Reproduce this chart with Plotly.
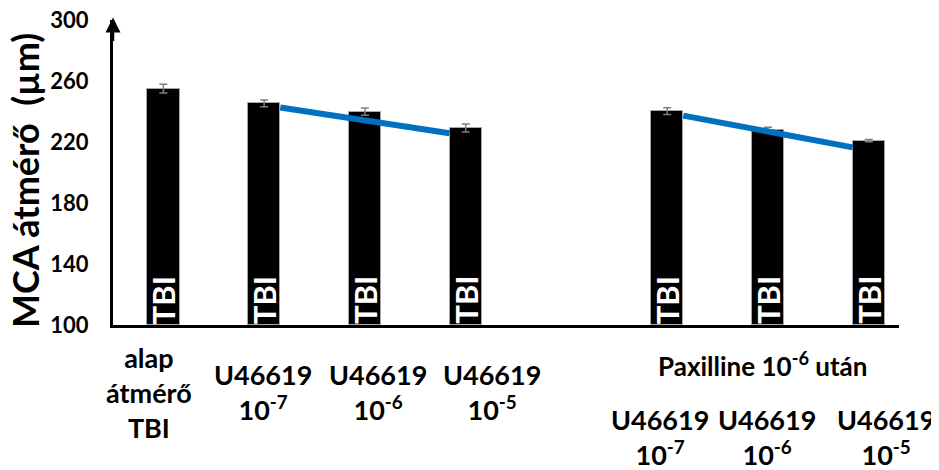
import plotly.graph_objects as go

# ---------------- data ----------------
categories = [
    "alap átmérő TBI",
    "U46619 10-7",
    "U46619 10-6",
    "U46619 10-5",
    "Paxilline + U46619 10-7",
    "Paxilline + U46619 10-6",
    "Paxilline + U46619 10-5",
]
diameter = [255.0, 245.3, 239.9, 229.2, 240.3, 227.9, 220.9]
sem = [2.9, 2.2, 2.4, 2.6, 2.2, 1.8, 0.8]
bar_text = ["TBI"] * 7
tick_labels = [
    "alap<br>átmérő<br>TBI",
    "U46619<br>10<sup>-7</sup>",
    "U46619<br>10<sup>-6</sup>",
    "U46619<br>10<sup>-5</sup>",
    "U46619<br>10<sup>-7</sup>",
    "U46619<br>10<sup>-6</sup>",
    "U46619<br>10<sup>-5</sup>",
]
group_label = "Paxilline 10<sup>-6</sup> után"
y_ticks = [100, 140, 180, 220, 260, 300]
y_title = "MCA átmérő\u00a0\u00a0(µm)"

# trend lines: from bar index -> to bar index, with y at the two ends
trend_from = [1, 4]
trend_to = [3, 6]
trend_start_y = [242.6, 237.3]
trend_end_y = [225.7, 216.5]

# ---------------- layout helpers ----------------
gap_after = 3  # one empty slot after the 4th bar
positions = [i + (1 if i > gap_after else 0) for i in range(len(categories))]
bar_w = 0.32
FONT = "Lato"

fig = go.Figure()

fig.add_trace(go.Bar(
    x=positions, y=[v - 100 for v in diameter], base=100,
    width=bar_w,
    marker=dict(color="black", line=dict(color="#a6a6a6", width=1)),
    error_y=dict(type="data", array=sem, color="#7f7f7f", thickness=1.5, width=4),
    hovertext=categories, showlegend=False,
))

for f, t, ys, ye in zip(trend_from, trend_to, trend_start_y, trend_end_y):
    fig.add_trace(go.Scatter(
        x=[positions[f] + bar_w / 2, positions[t] - bar_w / 2],
        y=[ys, ye], mode="lines",
        line=dict(color="#0070C0", width=6), showlegend=False,
    ))

annotations = []
# TBI labels inside bars
for p, txt in zip(positions, bar_text):
    annotations.append(dict(
        x=p, y=100, xref="x", yref="y", text=txt, showarrow=False,
        textangle=-90, yanchor="bottom", xanchor="center", yshift=-1,
        font=dict(family=FONT, size=31, color="white", weight="bold"),
    ))

# category labels under the axis
label_xshift = [-14, -1, 13, 26, -7, -1, 17]
label_y = [-0.22, -0.22, -0.22, -0.22, -0.367, -0.367, -0.367]
for p, txt, dx, yy in zip(positions, tick_labels, label_xshift, label_y):
    annotations.append(dict(
        x=p, y=yy, xref="x", yref="paper", text=txt, showarrow=False,
        xanchor="center", yanchor="middle", xshift=dx,
        font=dict(family=FONT, size=27, color="black", weight="bold"),
    ))
annotations.append(dict(
    x=positions[5], y=-0.131, xref="x", yref="paper", text=group_label,
    showarrow=False, xanchor="center", yanchor="middle", xshift=-6,
    font=dict(family=FONT, size=26, color="black", weight="bold"),
))
# y title
annotations.append(dict(
    x=-0.112, y=0.475, xref="paper", yref="paper", text=y_title,
    showarrow=False, textangle=-90, xanchor="center", yanchor="middle",
    font=dict(family=FONT, size=36, color="black", weight="bold"),
))
# arrow on the y axis
annotations.append(dict(
    x=0, y=1.008, xref="paper", yref="paper", text="", showarrow=True,
    ax=0, ay=25, axref="pixel", ayref="pixel",
    arrowhead=2, arrowsize=1.2, arrowwidth=2.5, arrowcolor="black",
))

# the page body adds an 8 px margin, so the figure is 8 px smaller
fig.update_layout(
    width=931, height=462,
    margin=dict(l=105, r=40, t=12, b=145, autoexpand=False),
    paper_bgcolor="white", plot_bgcolor="white",
    bargap=0,
    xaxis=dict(range=[-0.5, 7.3], showline=True, linecolor="black", linewidth=3,
               showticklabels=False, ticks="", showgrid=False, zeroline=False,
               automargin=False),
    yaxis=dict(range=[100, 300], showline=True, linecolor="black", linewidth=3,
               tickvals=y_ticks, ticks="outside", ticklen=17,
               tickcolor="rgba(0,0,0,0)", showgrid=False, zeroline=False,
               ticklabeloverflow="allow", automargin=False,
               tickfont=dict(family=FONT, size=22, color="black", weight="bold")),
    annotations=annotations,
)

fig.write_html("out.html")
